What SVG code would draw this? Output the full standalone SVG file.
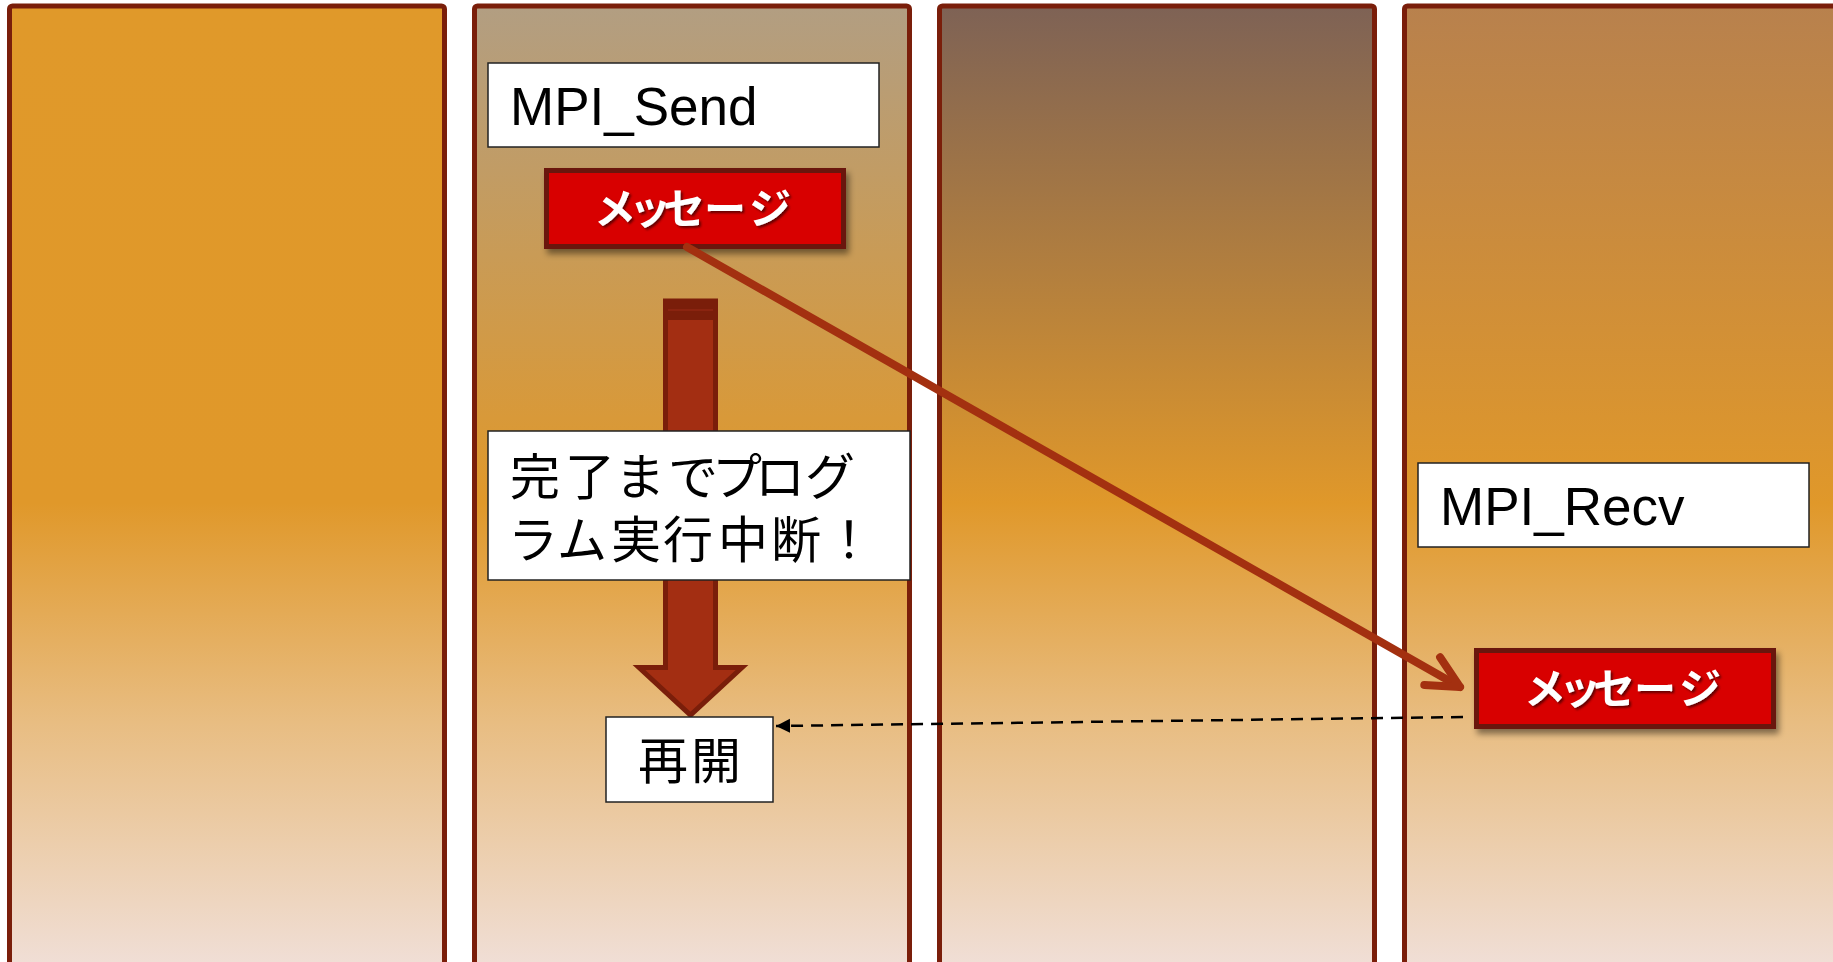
<svg xmlns="http://www.w3.org/2000/svg" width="1833" height="962" viewBox="0 0 1833 962">
<defs>
<linearGradient id="g1" gradientUnits="userSpaceOnUse" x1="0" y1="6" x2="0" y2="962">
<stop offset="0" stop-color="#E0992A"/><stop offset="0.52" stop-color="#E0982A"/><stop offset="0.75" stop-color="#E8BD82"/><stop offset="1" stop-color="#F0DED5"/>
</linearGradient>
<linearGradient id="g2" gradientUnits="userSpaceOnUse" x1="0" y1="6" x2="0" y2="962">
<stop offset="0" stop-color="#B29E82"/><stop offset="0.52" stop-color="#E0982A"/><stop offset="0.75" stop-color="#E8BD82"/><stop offset="1" stop-color="#F0DED5"/>
</linearGradient>
<linearGradient id="g3" gradientUnits="userSpaceOnUse" x1="0" y1="6" x2="0" y2="962">
<stop offset="0" stop-color="#7E6255"/><stop offset="0.52" stop-color="#E0982A"/><stop offset="0.75" stop-color="#E8BD82"/><stop offset="1" stop-color="#F0DED5"/>
</linearGradient>
<linearGradient id="g4" gradientUnits="userSpaceOnUse" x1="0" y1="6" x2="0" y2="962">
<stop offset="0" stop-color="#B8814D"/><stop offset="0.52" stop-color="#E0982A"/><stop offset="0.75" stop-color="#E8BD82"/><stop offset="1" stop-color="#F0DED5"/>
</linearGradient>
<filter id="boxShadow" x="-10%" y="-20%" width="130%" height="160%">
<feDropShadow dx="3" dy="5" stdDeviation="3" flood-color="#000" flood-opacity="0.45"/>
</filter>
<filter id="txtShadow" x="-10%" y="-20%" width="130%" height="160%">
<feDropShadow dx="2" dy="2" stdDeviation="1" flood-color="#300" flood-opacity="0.7"/>
</filter>
<marker id="openArrow" markerUnits="userSpaceOnUse" markerWidth="60" markerHeight="60" viewBox="-40 -30 60 60" refX="0" refY="0" orient="auto" overflow="visible">
<path d="M -32,-16 L 0,0 L -32,16" fill="none" stroke="#A33010" stroke-width="8" stroke-linecap="round" stroke-linejoin="round"/>
</marker>
<marker id="solidArrow" markerUnits="userSpaceOnUse" markerWidth="16" markerHeight="16" viewBox="0 0 16 16" refX="14" refY="8" orient="auto">
<path d="M0,1 L14,8 L0,15 z" fill="#000"/>
</marker>
<style>
.col{stroke:#7A1E0A;stroke-width:5}
.wbox{fill:#fff;stroke:#222;stroke-width:1.5}
.lbl{font-family:"Liberation Sans",Arial,sans-serif;font-size:53px;fill:#000}
.jp{font-family:"Noto Sans CJK JP","Noto Sans CJK SC",sans-serif;font-size:50px;fill:#000}
.msgbox{fill:#D80000;stroke:#6B1508;stroke-width:5}
.msg{font-family:"Noto Sans CJK JP","Noto Sans CJK SC",sans-serif;font-weight:700;font-size:42px;fill:#fff}
</style>
</defs>

<g id="process0"><rect class="col" x="9.5" y="6" width="435" height="1000" rx="3" fill="url(#g1)"/></g>
<g id="process1"><rect class="col" x="474.5" y="6" width="435" height="1000" rx="3" fill="url(#g2)"/></g>
<g id="process2"><rect class="col" x="939.5" y="6" width="435" height="1000" rx="3" fill="url(#g3)"/></g>
<g id="process3"><rect class="col" x="1404.5" y="6" width="435" height="1000" rx="3" fill="url(#g4)"/></g>

<g id="mpi-send">
<rect class="wbox" x="488" y="63" width="391" height="84"/>
<text class="lbl" x="510" y="125">MPI_Send</text>
</g>

<g id="block-arrow">
<path d="M665.5,301 L715.5,301 L715.5,667.5 L742,667.5 L690.5,715 L639,667.5 L665.5,667.5 Z" fill="#A32E12" stroke="#7A1E0A" stroke-width="5" stroke-linejoin="miter"/>
<rect x="663" y="299" width="55" height="21" fill="#7A1E0A"/>
<rect x="668" y="309" width="45" height="2" fill="#8A2410"/>
</g>

<g id="send-message">
<rect class="msgbox" x="546.5" y="170.5" width="297" height="76" filter="url(#boxShadow)"/>
<text class="msg" x="594 629 663 704 749" y="224" filter="url(#txtShadow)">メッセージ</text>
</g>

<g id="pause-note">
<rect class="wbox" x="488" y="431" width="422" height="149"/>
<text class="jp"><tspan x="510 565 615 668 712 755 805" y="494.5">完了までプログ</tspan><tspan x="508 557 611 663 718 771 824" y="557.5">ラム実行中断！</tspan></text>
</g>

<g id="resume">
<rect class="wbox" x="606" y="717" width="167" height="85"/>
<text class="jp" x="638 691" y="779">再開</text>
</g>

<g id="mpi-recv">
<rect class="wbox" x="1418" y="463" width="391" height="84"/>
<text class="lbl" x="1440" y="525">MPI_Recv</text>
</g>

<g id="recv-message">
<rect class="msgbox" x="1476.5" y="650.5" width="297" height="76" filter="url(#boxShadow)"/>
<text class="msg" x="1524 1559 1593 1634 1679" y="704" filter="url(#txtShadow)">メッセージ</text>
</g>

<g id="connectors">
<line x1="687" y1="247" x2="1460" y2="687" stroke="#A33010" stroke-width="8" stroke-linecap="round" marker-end="url(#openArrow)"/>
<line x1="1463" y1="717" x2="776" y2="726" stroke="#000" stroke-width="2.5" stroke-dasharray="12 8" marker-end="url(#solidArrow)"/>
</g>
</svg>
